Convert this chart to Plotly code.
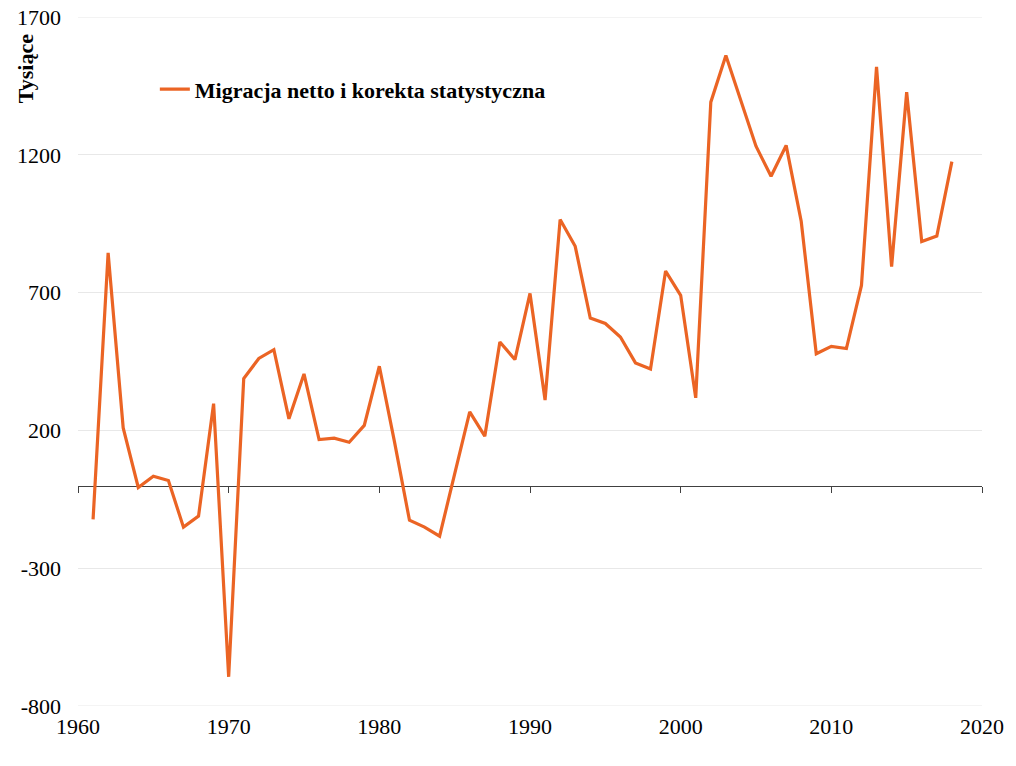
import plotly.graph_objects as go

years = list(range(1961, 2019))
values = [
    -123, 844, 209, -7, 34, 18, -151, -111, 297, -694,
    388, 461, 493, 242, 405, 167, 172, 157, 218, 433,
    160, -126, -151, -184, 42, 267, 179, 521, 457, 697,
    310, 965, 868, 608, 588, 539, 445, 423, 778, 690,
    318, 1391, 1560, 1395, 1231, 1122, 1234, 959, 478, 505,
    497, 726, 1519, 794, 1427, 885, 905, 1175,
]
series_name = "Migracja netto i korekta statystyczna"
y_title = "Tysiące"
x_ticks = [1960, 1970, 1980, 1990, 2000, 2010, 2020]
y_ticks = [-800, -300, 200, 700, 1200, 1700]

FONT = "Liberation Serif"
ORANGE = "#EB6424"
GRID = "#e8e8e8"

fig = go.Figure()
fig.add_trace(go.Scatter(
    x=years, y=values, mode="lines", name=series_name,
    line=dict(color=ORANGE, width=3.2), xaxis="x", yaxis="y",
))
fig.add_trace(go.Scatter(
    x=[], y=[], mode="lines", showlegend=False, xaxis="x2", yaxis="y",
))

ymin, ymax = -800, 1700
zero_pos = (0 - ymin) / (ymax - ymin)

# gridlines at the range edges (plotly omits them)
edge_shapes = [
    dict(type="line", xref="paper", yref="y", x0=0, x1=1, y0=v, y1=v,
         line=dict(color=GRID, width=1), layer="below")
    for v in (ymin, ymax)
]

fig.update_layout(
    width=1016, height=766,
    paper_bgcolor="white", plot_bgcolor="white",
    margin=dict(l=78, r=34, t=17, b=60),
    font=dict(family=FONT, size=22, color="black"),
    showlegend=True,
    legend=dict(
        x=0.085, y=0.895, xanchor="left", yanchor="middle",
        bgcolor="rgba(0,0,0,0)",
        font=dict(family=FONT, size=22, color="black", weight="bold"),
    ),
    xaxis=dict(
        range=[1960, 2020], tickvals=x_ticks, ticktext=[str(v) for v in x_ticks],
        showgrid=False, zeroline=False, showline=False, ticks="",
        tickfont=dict(family=FONT, size=22, color="black"),
        ticklabelstandoff=5, automargin=False, ticklabeloverflow="allow",
    ),
    xaxis2=dict(
        range=[1960, 2020], tickvals=x_ticks, overlaying="x", anchor="free",
        position=zero_pos, showgrid=False, zeroline=False,
        showline=True, linecolor="#404040", linewidth=1.3,
        ticks="outside", ticklen=6, tickcolor="#404040", tickwidth=1.3,
        showticklabels=False, layer="below traces", automargin=False,
    ),
    yaxis=dict(
        range=[ymin, ymax], tickvals=y_ticks, ticktext=[str(v) for v in y_ticks],
        showgrid=True, gridcolor=GRID, gridwidth=1,
        zeroline=False, showline=False, ticks="",
        tickfont=dict(family=FONT, size=22, color="black"),
        ticklabelstandoff=16, automargin=False, ticklabeloverflow="allow",
    ),
    shapes=edge_shapes,
    annotations=[dict(
        text="<b>" + y_title + "</b>", xref="paper", yref="paper",
        x=-0.058, y=0.925, showarrow=False, textangle=-90,
        xanchor="center", yanchor="middle",
        font=dict(family=FONT, size=22, color="black"),
    )],
)

fig.write_html(
    "out.html",
    config={"displayModeBar": False},
    post_script="document.body.style.margin='0px';",
)
